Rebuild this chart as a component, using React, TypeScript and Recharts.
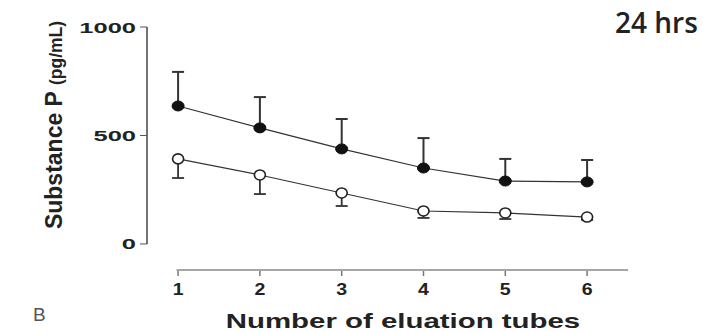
import { LineChart, Line, XAxis, YAxis, ErrorBar, ReferenceLine } from "recharts";

const tubes = [1, 2, 3, 4, 5, 6];
const filledMean = [636, 535, 438, 350, 290, 286];
const filledErr = [157, 142, 138, 138, 102, 101];
const openMean = [392, 318, 235, 152, 143, 124];
const openErr = [88, 88, 60, 32, 28, 13];
const yTicks = [0, 500, 1000];

const data = tubes.map((t, i) => ({
  tube: t,
  filled: filledMean[i],
  filledErr: [0, filledErr[i]],
  open: openMean[i],
  openErr: [openErr[i], 0],
}));

const font = "'Liberation Sans', Arial, sans-serif";

const FilledDot = (props: any) => {
  const { cx, cy, index } = props;
  return <ellipse key={index} cx={cx} cy={cy} rx={6} ry={5} fill="#111" stroke="#111" />;
};

const OpenDot = (props: any) => {
  const { cx, cy, index } = props;
  return <ellipse key={index} cx={cx} cy={cy} rx={5.5} ry={5} fill="#fff" stroke="#222" strokeWidth={1.6} />;
};

const XTick = (props: any) => {
  const { x, y, payload } = props;
  return (
    <g>
      <line x1={x} x2={x} y1={y - 7} y2={y - 2} stroke="#777" strokeWidth={1.5} />
      <text
        transform={`translate(${x},${y + 17}) scale(1.15,1)`}
        textAnchor="middle"
        fontFamily={font}
        fontWeight="bold"
        fontSize={17}
        fill="#222"
      >
        {payload.value}
      </text>
    </g>
  );
};

const YTick = (props: any) => {
  const { x, y, payload } = props;
  return (
    <text
      transform={`translate(${x - 2},${y + 5.5}) scale(1.7,1)`}
      textAnchor="end"
      fontFamily={font}
      fontWeight="bold"
      fontSize={15}
      fill="#222"
    >
      {payload.value}
    </text>
  );
};

export default function App() {
  return (
    <div style={{ position: "absolute", left: 0, top: 0, width: 703, height: 333, background: "#fff" }}>
      <LineChart width={703} height={333} data={data} margin={{ top: 27, right: 75, bottom: 33, left: 87 }}>
        <XAxis
          type="number"
          dataKey="tube"
          domain={[0.62, 6.5]}
          ticks={tubes}
          allowDataOverflow
          axisLine={false}
          tickLine={false}
          tick={<XTick />}
          height={30}
        />
        <YAxis
          type="number"
          domain={[-120, 1000]}
          ticks={yTicks}
          allowDataOverflow
          axisLine={false}
          tickLine={{ stroke: "#555", strokeWidth: 1 }}
          tickSize={7}
          tick={<YTick />}
          width={60}
        />
        <ReferenceLine
          segment={[{ x: 0.62, y: 0 }, { x: 0.62, y: 1000 }]}
          stroke="#444"
          strokeWidth={1.5}
          ifOverflow="visible"
        />
        <ReferenceLine
          segment={[{ x: 0.98, y: -120 }, { x: 6.5, y: -120 }]}
          stroke="#888"
          strokeWidth={1.5}
          ifOverflow="visible"
        />
        <Line
          type="linear"
          dataKey="filled"
          stroke="#333"
          strokeWidth={1.2}
          dot={<FilledDot />}
          isAnimationActive={false}
        >
          <ErrorBar dataKey="filledErr" direction="y" width={6} stroke="#333" strokeWidth={2} />
        </Line>
        <Line
          type="linear"
          dataKey="open"
          stroke="#333"
          strokeWidth={1.2}
          dot={<OpenDot />}
          isAnimationActive={false}
        >
          <ErrorBar dataKey="openErr" direction="y" width={6} stroke="#333" strokeWidth={1.8} />
        </Line>
      </LineChart>
      <div
        style={{
          position: "absolute",
          left: 54,
          top: 125,
          transform: "translate(-50%, -50%) rotate(-90deg)",
          whiteSpace: "nowrap",
          fontFamily: font,
          color: "#222",
        }}
      >
        <span style={{ fontSize: 23, fontWeight: "bold" }}>Substance P </span>
        <span style={{ fontSize: 17.5, fontWeight: "bold" }}>(pg/mL)</span>
      </div>
      <div
        style={{
          position: "absolute",
          left: 403,
          top: 309,
          transform: "translateX(-50%) scaleX(1.4)",
          whiteSpace: "nowrap",
          fontFamily: font,
          fontWeight: "bold",
          fontSize: 21,
          color: "#222",
        }}
      >
        Number of eluation tubes
      </div>
      <div style={{ position: "absolute", left: 33, top: 304, fontFamily: font, fontSize: 19, color: "#555" }}>B</div>
      <div
        style={{
          position: "absolute",
          left: 615,
          top: 3,
          fontFamily: "'Open Sans', sans-serif",
          fontWeight: 600,
          fontSize: 28,
          color: "#222",
        }}
      >
        24 hrs
      </div>
    </div>
  );
}
